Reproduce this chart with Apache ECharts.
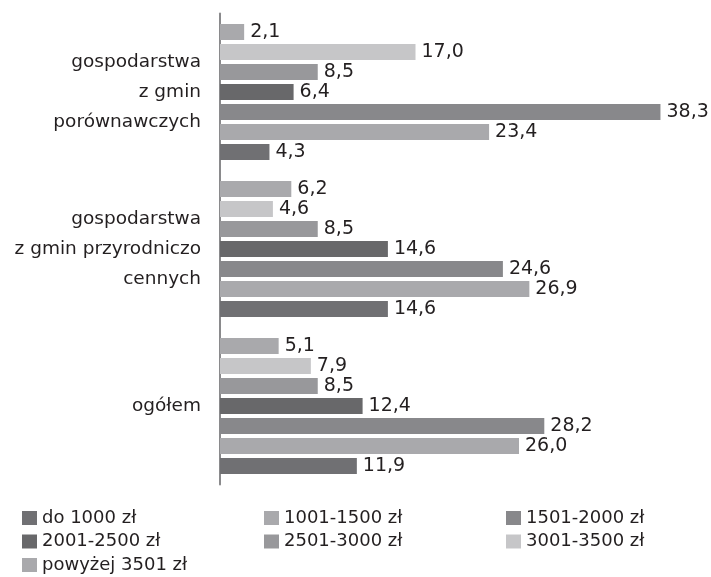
<!DOCTYPE html>
<html>
<head>
<meta charset="utf-8">
<script src="https://cdn.jsdelivr.net/npm/echarts@6/dist/echarts.min.js"></script>
<style>
    html, body { margin: 0; padding: 0; background: #fff; }
    #chart { width: 711px; height: 577px; }
</style>
</head>
<body>
<div id="chart"></div>
<script>
    // kategorie od dołu do góry (oś kategorii rośnie w górę)
    const categories = ['ogółem', 'gospodarstwa\nz gmin przyrodniczo\ncennych', 'gospodarstwa\nz gmin\nporównawczych']
    const seriesNames = ['do 1000 zł', '1001-1500 zł', '1501-2000 zł', '2001-2500 zł', '2501-3000 zł', '3001-3500 zł', 'powyżej 3501 zł']

    const do1000 = [11.9, 14.6, 4.3]
    const od1001 = [26.0, 26.9, 23.4]
    const od1501 = [28.2, 24.6, 38.3]
    const od2001 = [12.4, 14.6, 6.4]
    const od2501 = [8.5, 8.5, 8.5]
    const od3001 = [7.9, 4.6, 17.0]
    const powyzej3501 = [5.1, 6.2, 2.1]

    const colors = ['#707073', '#a9a9ac', '#88888b', '#68686a', '#98989b', '#c6c6c8', '#a9a9ac']

    const values = [do1000, od1001, od1501, od2001, od2501, od3001, powyzej3501]
    const FONT = 'DejaVu Sans'

    const chart = echarts.init(document.getElementById('chart'))

    // legenda w trzech kolumnach
    const legendColumns = [
        {left: 22, data: [seriesNames[0], seriesNames[3], seriesNames[6]]},
        {left: 264, data: [seriesNames[1], seriesNames[4]]},
        {left: 506, data: [seriesNames[2], seriesNames[5]]}
    ]

    // w grupie pierwsza seria rysuje się na górze, a w oryginale "do 1000 zł" jest na dole
    const order = [6, 5, 4, 3, 2, 1, 0]

    chart.setOption({
        animation: false,
        legend: legendColumns.map(c => ({
            orient: 'vertical',
            left: c.left,
            top: 508,
            height: 90,
            padding: 0,
            itemWidth: 15,
            itemHeight: 14,
            itemGap: 3.5,
            icon: 'rect',
            data: c.data,
            textStyle: {fontFamily: FONT, fontSize: 18, lineHeight: 20, color: '#231f20'}
        })),
        grid: {
            left: 220,
            top: 13.5,
            width: 460,
            height: 471,
            containLabel: false
        },
        xAxis: {
            type: 'value',
            min: 0,
            max: 40,
            show: false
        },
        yAxis: {
            type: 'category',
            data: categories,
            axisLine: {show: true, lineStyle: {color: '#8a8a8c', width: 2}},
            axisTick: {show: false},
            axisLabel: {
                margin: 19,
                fontFamily: FONT,
                fontSize: 18.5,
                lineHeight: 30,
                color: '#231f20',
                align: 'right'
            }
        },
        series: order.map(i => ({
            name: seriesNames[i],
            type: 'bar',
            data: values[i],
            barWidth: 16,
            barGap: '25%',
            itemStyle: {color: colors[i]},
            label: {
                show: true,
                position: 'right',
                distance: 6,
                fontFamily: FONT,
                fontSize: 19,
                color: '#231f20',
                formatter: p => p.value.toFixed(1).replace('.', ',')
            }
        }))
    })
</script>
</body>
</html>
